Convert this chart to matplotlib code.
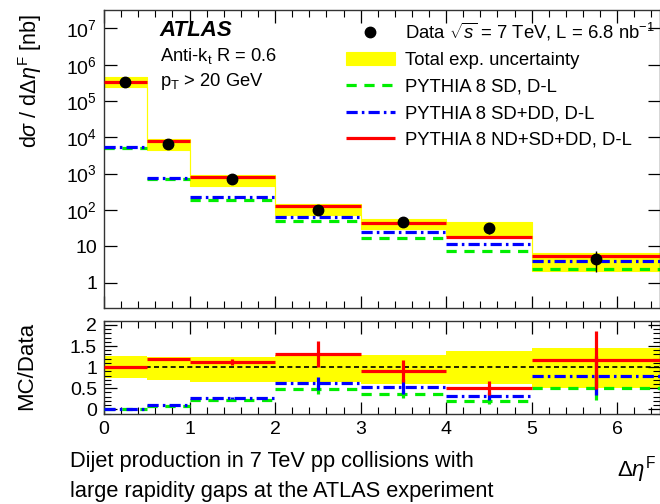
import matplotlib
matplotlib.use("Agg")
import matplotlib.pyplot as plt
import numpy as np
from matplotlib.ticker import FixedLocator, MultipleLocator, LogLocator, NullFormatter

plt.rcParams['font.family'] = ['Liberation Sans', 'DejaVu Sans']
plt.rcParams['mathtext.fontset'] = 'custom'
plt.rcParams['mathtext.rm'] = 'Liberation Sans'
plt.rcParams['mathtext.it'] = 'Liberation Sans:italic'

# bins in delta eta^F
x_edges = [0, 0.5, 1, 2, 3, 4, 5, 6.5]
x_data = [0.25, 0.75, 1.5, 2.5, 3.5, 4.5, 5.75]

# cross section [nb]
data = [3.4e5, 6.6e3, 730, 98, 46, 32, 4.6]
data_err = [3e3, 130, 45, 21, 13, 10, 2.6]
band_hi = [4.5e5, 9.0e3, 940, 150, 57, 46, 6.4]
band_lo = [2.5e5, 4.6e3, 450, 75, 30, 19, 2.1]
nd_sd_dd = [3.36e5, 7.9e3, 830, 132, 43, 17.5, 5.3]
sd_dd = [5.3e3, 760, 224, 65, 24.6, 11.5, 3.85]
sd = [5.0e3, 716, 194, 49, 17, 7.2, 2.4]

# MC/Data
r_band_hi = [1.27, 1.24, 1.23, 1.28, 1.29, 1.375, 1.45]
r_band_lo = [0.74, 0.69, 0.65, 0.65, 0.61, 0.61, 0.51]
r_nd = [1.0, 1.2, 1.13, 1.31, 0.90, 0.51, 1.17]
r_nd_err = [0.01, 0.025, 0.07, 0.30, 0.26, 0.16, 0.68]
r_sddd = [0.015, 0.10, 0.27, 0.62, 0.54, 0.32, 0.80]
r_sddd_err = [0.0, 0.003, 0.02, 0.15, 0.17, 0.10, 0.47]
r_sd = [0.012, 0.08, 0.22, 0.49, 0.36, 0.20, 0.51]
r_sd_err = [0.0, 0.002, 0.015, 0.12, 0.10, 0.08, 0.30]

ytick_vals = [1, 10, 1e2, 1e3, 1e4, 1e5, 1e6, 1e7]
ytick_labels = ['1', '10', '$10^{2}$', '$10^{3}$', '$10^{4}$', '$10^{5}$', '$10^{6}$', '$10^{7}$']

RED = '#ff0000'
BLUE = '#0000ff'
GREEN = '#00ee00'
YEL = '#ffff00'
LW = 2.3

fig = plt.figure(figsize=(6.6, 5.04), dpi=100)
ax = fig.add_axes([104/660, 1-308/504, 556/660, 298/504])
axr = fig.add_axes([104/660, 1-414/504, 556/660, 93.3/504])

lo = np.array(x_edges[:-1])
hi = np.array(x_edges[1:])


def step(v):
    return list(v) + [v[-1]]


def style(a):
    a.tick_params(which='both', direction='in', top=True, right=True, labelsize=14, pad=5)
    a.tick_params(which='major', length=9, width=0.9)
    a.tick_params(which='minor', length=5, width=0.8)
    for s in a.spines.values():
        s.set_linewidth(1.0)
        s.set_color('#333333')
    a.xaxis.set_major_locator(MultipleLocator(1))
    a.xaxis.set_minor_locator(MultipleLocator(0.2))
    a.set_xlim(0, 6.5)


# ---------- top panel ----------
ax.fill_between(x_edges, step(band_lo), step(band_hi), step='post', color=YEL,
                lw=0.8, edgecolor=YEL, zorder=1, label='Total exp. uncertainty')
ax.hlines(sd, lo, hi, colors=GREEN, lw=LW, linestyles=(0, (3.2, 2.4)), zorder=2,
          label='PYTHIA 8 SD, D-L')
ax.hlines(sd_dd, lo, hi, colors=BLUE, lw=LW, linestyles=(0, (3.5, 1.3, 0.8, 1.3)), zorder=3,
          label='PYTHIA 8 SD+DD, D-L')
ax.hlines(nd_sd_dd, lo, hi, colors=RED, lw=LW, zorder=4, label='PYTHIA 8 ND+SD+DD, D-L')
eb = ax.errorbar(x_data, data, yerr=data_err, fmt='o', color='black', ms=7.5, elinewidth=1.0,
                 capsize=0, zorder=5)

ax.set_yscale('log')
ax.set_ylim(0.2, 3.2e7)
style(ax)
ax.yaxis.set_major_locator(FixedLocator(ytick_vals))
ax.set_yticklabels(ytick_labels)
ax.yaxis.set_minor_locator(LogLocator(base=10, subs=np.arange(2, 10)))
ax.yaxis.set_minor_formatter(NullFormatter())
ax.tick_params(axis='x', labelbottom=False)

h, l = ax.get_legend_handles_labels()
ax.legend([eb[0]] + h, [r'Data $\sqrt{s}$ = 7 TeV, L = 6.8 nb$^{-1}$'] + l, loc='upper left',
          bbox_to_anchor=(0.435, 0.965), frameon=False, fontsize=13.3, handlelength=2.65,
          handletextpad=0.55, labelspacing=0.52, borderpad=0, borderaxespad=0)

ax.text(0.1, 0.932, 'ATLAS', transform=ax.transAxes, fontsize=16, fontweight='bold',
        fontstyle='italic', va='center')
ax.text(0.1, 0.845, r'Anti-k$_{\mathrm{t}}$ R = 0.6', transform=ax.transAxes, fontsize=13.2, va='center')
ax.text(0.1, 0.76, r'p$_{\mathrm{T}}$ > 20 GeV', transform=ax.transAxes, fontsize=13.2, va='center')

# ---------- ratio panel ----------
axr.fill_between(x_edges, step(r_band_lo), step(r_band_hi), step='post', color=YEL,
                 lw=0, zorder=1)
axr.axhline(1, color='black', lw=1.2, ls=(0, (3, 2)), zorder=2)
axr.hlines(r_sd, lo, hi, colors=GREEN, lw=LW, linestyles=(0, (3.2, 2.4)), zorder=3)
axr.vlines(x_data, np.array(r_sd) - r_sd_err, np.array(r_sd) + r_sd_err, colors=GREEN, lw=LW, zorder=3)
axr.hlines(r_sddd, lo, hi, colors=BLUE, lw=LW, linestyles=(0, (3.5, 1.3, 0.8, 1.3)), zorder=4)
axr.vlines(x_data, np.array(r_sddd) - r_sddd_err, np.array(r_sddd) + r_sddd_err, colors=BLUE, lw=LW, zorder=4)
axr.hlines(r_nd, lo, hi, colors=RED, lw=LW, zorder=5)
axr.vlines(x_data, np.array(r_nd) - r_nd_err, np.array(r_nd) + r_nd_err, colors=RED, lw=LW, zorder=5)

axr.set_ylim(-0.11, 2.1)
style(axr)
axr.yaxis.set_major_locator(FixedLocator([0, 0.5, 1, 1.5, 2]))
axr.set_yticklabels(['0', '0.5', '1', '1.5', '2'])
axr.yaxis.set_minor_locator(MultipleLocator(0.1))
axr.tick_params(axis='x', pad=5)

# ---------- labels ----------
fig.text(30/660, 1-81/504, r'd$\sigma$ / d$\Delta\eta^{\mathrm{F}}$ [nb]', rotation=90,
         ha='center', va='center', fontsize=15.5)
fig.text(27/660, 1-366/504, 'MC/Data', rotation=90, ha='center', va='center', fontsize=16)
fig.text(656/660, 1-470/504, r'$\Delta\eta^{\mathrm{F}}$', ha='right', va='center', fontsize=16)
fig.text(70/660, 1-461/504, 'Dijet production in 7 TeV pp collisions with', ha='left',
         va='center', fontsize=15.7)
fig.text(70/660, 1-492/504, 'large rapidity gaps at the ATLAS experiment', ha='left',
         va='center', fontsize=15.7)

fig.savefig('out.png', dpi=100)
